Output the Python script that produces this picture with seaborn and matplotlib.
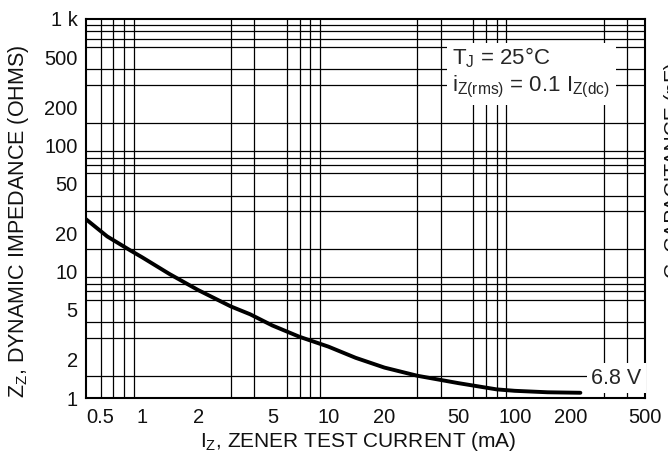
import matplotlib
matplotlib.use("Agg")
import matplotlib.pyplot as plt
import seaborn as sns
import pandas as pd
from matplotlib.ticker import FixedLocator, NullFormatter

# zener test current (mA) vs dynamic impedance (ohms), 6.8 V device
iz_ma = [0.5, 0.65, 0.86, 1.0, 1.4, 2.0, 3.0, 3.8, 5.0, 7.0, 10.0, 14.0, 20.0, 30.0, 50.0, 80.0, 100.0, 150.0, 225.0]
zz_ohm = [26.0, 19.0, 14.8, 13.0, 9.6, 7.15, 5.3, 4.6, 3.75, 3.05, 2.55, 2.08, 1.74, 1.5, 1.31, 1.17, 1.14, 1.11, 1.10]

x_ticks = [0.5, 1, 2, 5, 10, 20, 50, 100, 200, 500]
x_ticklabels = ["0.5", "1", "2", "5", "10", "20", "50", "100", "200", "500"]
y_ticks = [1, 2, 5, 10, 20, 50, 100, 200, 500, 1000]
y_ticklabels = ["1", "2", "5", "10", "20", "50", "100", "200", "500", "1 k"]

x_grid = [0.6, 0.7, 0.8, 0.9, 1, 2, 3, 4, 5, 6, 7, 8, 9, 10,
          20, 30, 40, 50, 60, 70, 80, 90, 100, 200, 300, 400]
y_grid = [1.5, 2, 3, 4, 5, 6, 7, 8, 9, 10, 15, 20, 30, 40, 50, 60, 70, 80, 90, 100,
          150, 200, 300, 400, 500, 600, 700, 800, 900]

df = pd.DataFrame({"iz": iz_ma, "zz": zz_ohm})

sns.set_style("white")
plt.rcParams['font.family'] = ['Liberation Sans', 'DejaVu Sans']
plt.rcParams['mathtext.fontset'] = 'custom'
plt.rcParams['mathtext.rm'] = 'Liberation Sans'
plt.rcParams['mathtext.it'] = 'Liberation Sans'

fig = plt.figure(figsize=(6.68, 4.59), dpi=100)
ax = fig.add_axes([86 / 668, 1 - 398 / 459, (645 - 86) / 668, (398 - 19) / 459])

sns.lineplot(data=df, x="iz", y="zz", ax=ax, color="black", lw=2.8, zorder=3)

ax.set_xscale("log")
ax.set_yscale("log")
ax.set_xlim(0.5, 500)
ax.set_ylim(1, 1000)

ax.xaxis.set_major_locator(FixedLocator(x_ticks))
ax.set_xticklabels(x_ticklabels)
ax.yaxis.set_major_locator(FixedLocator(y_ticks))
ax.set_yticklabels(y_ticklabels)
ax.xaxis.set_minor_locator(FixedLocator(x_grid))
ax.yaxis.set_minor_locator(FixedLocator(y_grid))
ax.xaxis.set_minor_formatter(NullFormatter())
ax.yaxis.set_minor_formatter(NullFormatter())
ax.grid(False)
ax.grid(True, which="minor", color="black", lw=0.9)
ax.set_axisbelow(True)

ax.tick_params(which="both", length=0, labelsize=14.5, colors="#111111")
ax.tick_params(axis="x", pad=7)
ax.tick_params(axis="y", pad=6)
ax.get_xticklabels()[0].set_horizontalalignment("left")

for s in ax.spines.values():
    s.set_color("black")
    s.set_linewidth(1.5)

ax.set_xlabel(r"I$_\mathrm{Z}$, ZENER TEST CURRENT (mA)", fontsize=15, color="#111111")
ax.set_ylabel(r"Z$_\mathrm{Z}$, DYNAMIC IMPEDANCE (OHMS)", fontsize=15.5, color="#111111")
ax.xaxis.set_label_coords(0.487, -0.085)
ax.yaxis.set_label_coords(-0.098, 0.467)

ax.text(0.655, 0.93, "T$_\\mathrm{J}$ = 25°C\ni$_\\mathrm{Z(rms)}$ = 0.1 I$_\\mathrm{Z(dc)}$",
        transform=ax.transAxes, ha="left", va="top", fontsize=16, linespacing=1.2,
        bbox=dict(facecolor="white", edgecolor="none", pad=4), zorder=4)

ax.text(0.994, 0.025, "6.8 V", transform=ax.transAxes, ha="right", va="bottom",
        fontsize=15.5, bbox=dict(facecolor="white", edgecolor="none", pad=3), zorder=4)

# neighbouring chart's axis title, cut off by the page edge
fig.text(664 / 668, 1 - 170 / 459, "C, CAPACITANCE (pF)", rotation=90,
         ha="left", va="center", fontsize=15, color="#111111")

fig.savefig("out.png", dpi=100)
